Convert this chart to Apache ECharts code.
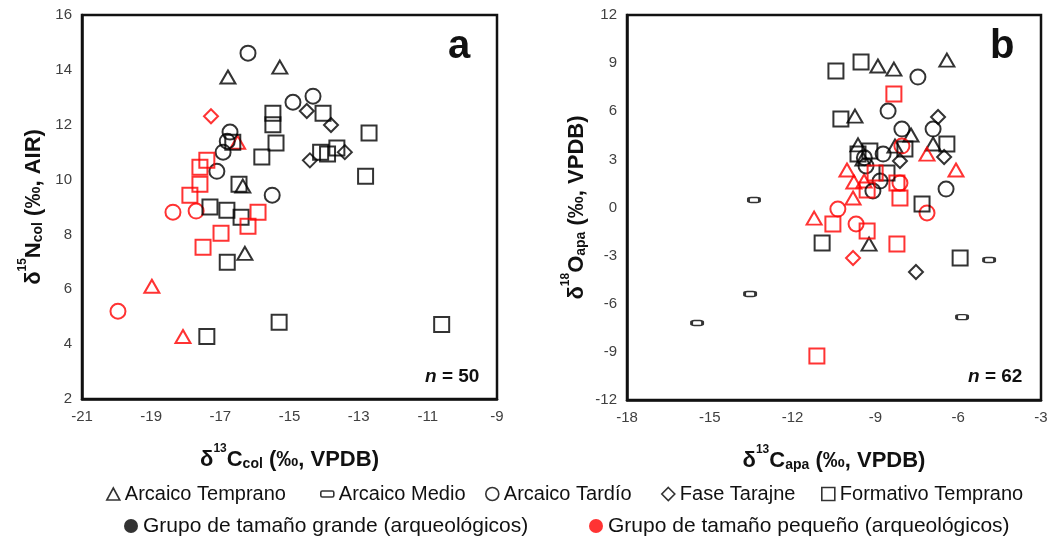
<!DOCTYPE html>
<html>
<head>
<meta charset="utf-8">
<script src="https://cdn.jsdelivr.net/npm/echarts@6/dist/echarts.min.js"></script>
<style>
  html, body { margin: 0; padding: 0; background: #fff; }
  #main { width: 1053px; height: 540px; }
</style>
</head>
<body>
<div id="main"></div>
<script>
// [d13C, d15N / d18O, grupo]  grupo 0 = grande (negro), 1 = pequeño (rojo)
// panel a : colágeno
var tempranoA = [[-16.78,13.74,0],[-15.28,14.1,0],[-16.29,7.31,0],[-16.35,9.76,0],
    [-16.5,11.36,1],[-18.98,6.11,1],[-18.08,4.28,1]];
var tardioA = [[-16.2,14.61,0],[-14.9,12.82,0],[-14.32,13.04,0],[-16.72,11.73,0],[-16.8,11.4,0],
    [-16.92,11.0,0],[-17.1,10.3,0],[-15.5,9.43,0],
    [-18.37,8.81,1],[-17.7,8.85,1],[-19.96,5.2,1]];
var tarajneA = [[-14.5,12.5,0],[-13.8,11.99,0],[-14.41,10.7,0],[-13.4,11.0,0],[-17.27,12.31,1]];
var formativoA = [[-15.48,12.42,0],[-15.48,12.0,0],[-15.39,11.33,0],[-15.8,10.82,0],[-16.64,11.36,0],
    [-16.46,9.83,0],[-17.3,9.0,0],[-16.81,8.88,0],[-16.4,8.63,0],[-16.8,6.99,0],[-17.39,4.28,0],
    [-15.3,4.8,0],[-10.6,4.72,0],[-14.03,12.42,0],[-14.1,11.0,0],[-13.9,10.93,0],[-13.63,11.15,0],
    [-12.7,11.7,0],[-12.8,10.12,0],
    [-17.39,10.7,1],[-17.59,10.45,1],[-17.59,9.83,1],[-17.88,9.43,1],[-15.91,8.81,1],
    [-16.2,8.3,1],[-16.98,8.04,1],[-17.5,7.53,1]];

// panel b : apatita
var medioB = [[-13.4,0.47,0],[-13.54,-5.39,0],[-15.46,-7.2,0],[-4.88,-3.27,0],[-5.86,-6.83,0]];
var tempranoB = [[-8.91,8.82,0],[-8.33,8.63,0],[-6.41,9.19,0],[-9.74,5.7,0],[-7.71,4.52,0],
    [-9.63,3.9,0],[-6.91,3.96,0],[-9.23,-2.28,0],[-9.45,3.02,0],[-8.29,3.83,0],
    [-7.13,3.33,1],[-6.08,2.34,1],[-10.03,2.34,1],[-9.78,1.59,1],[-9.41,1.65,1],[-9.81,0.59,1],[-11.22,-0.66,1]];
var tardioB = [[-7.46,8.13,0],[-8.54,6.01,0],[-8.04,4.89,0],[-6.91,4.89,0],[-8.72,3.33,0],
    [-9.4,3.1,0],[-9.34,2.59,0],[-8.83,1.65,0],[-9.09,1.03,0],[-6.44,1.15,0],
    [-8.04,3.83,1],[-8.11,1.53,1],[-10.36,-0.1,1],[-7.13,-0.34,1],[-9.7,-1.03,1]];
var tarajneB = [[-6.73,5.64,0],[-6.51,3.15,0],[-8.11,2.9,0],[-7.53,-4.02,0],[-9.81,-3.15,1]];
var formativoB = [[-10.43,8.51,0],[-9.52,9.07,0],[-10.25,5.52,0],[-9.63,3.33,0],[-9.2,3.52,0],
    [-7.93,3.65,0],[-6.41,3.96,0],[-8.58,2.15,0],[-7.31,0.22,0],[-10.93,-2.21,0],[-5.93,-3.15,0],
    [-8.33,7.07,1],[-9.01,2.15,1],[-8.22,1.53,1],[-9.3,1.09,1],[-8.11,0.59,1],[-10.54,-1.03,1],
    [-9.3,-1.47,1],[-8.22,-2.28,1],[-11.12,-9.26,1]];

var periodos = ['Arcaico Temprano', 'Arcaico Medio', 'Arcaico Tardío', 'Fase Tarajne', 'Formativo Temprano'];
var grupos = ['Grupo de tamaño grande (arqueológicos)', 'Grupo de tamaño pequeño (arqueológicos)'];
var nA = 'n = 50', nB = 'n = 62';

var colores = ['#000', '#f00'];

function serie(name, sym, size, pts, idx) {
    return {
        name: name,
        type: 'scatter',
        xAxisIndex: idx,
        yAxisIndex: idx,
        symbol: sym,
        symbolSize: size,
        itemStyle: { color: 'rgba(0,0,0,0)', borderColor: '#000', borderWidth: 2 },
        emphasis: { disabled: true },
        data: pts.map(function (p) {
            return { value: [p[0], p[1]], itemStyle: { borderColor: colores[p[2]] } };
        })
    };
}

var tick = { color: '#404040', fontSize: 15, fontFamily: 'Liberation Sans' };
var tit = {
    d: { fontSize: 22, fontWeight: 'bold', color: '#111', fontFamily: 'Liberation Sans', lineHeight: 28, verticalAlign: 'bottom' },
    sup: { fontSize: 12, fontWeight: 'bold', color: '#111', fontFamily: 'Liberation Sans', verticalAlign: 'top', lineHeight: 28 },
    sub: { fontSize: 14, fontWeight: 'bold', color: '#111', fontFamily: 'Liberation Sans', verticalAlign: 'bottom', lineHeight: 22 }
};

function eje(min, max, interval, name, gap) {
    return {
        type: 'value', min: min, max: max, interval: interval,
        name: name, nameLocation: 'middle', nameGap: gap,
        nameTextStyle: { rich: tit },
        axisLine: { show: true, onZero: false, lineStyle: { color: '#111', width: 2.5 } },
        axisTick: { show: false },
        splitLine: { show: false },
        axisLabel: Object.assign({ margin: 10 }, tick)
    };
}

// nombre, icono, left, top, ancho, alto, tamaño de letra
var legendItems = [
    [periodos[0], 'triangle', 106, 482, 13, 12, 20],
    [periodos[1], 'roundRect', 320, 482, 13, 6, 20],
    [periodos[2], 'circle', 485, 482, 13, 13, 20],
    [periodos[3], 'diamond', 661, 482, 13, 13, 20],
    [periodos[4], 'rect', 821, 482, 13, 13, 20],
    [grupos[0], 'circle', 124, 514, 14, 14, 21],
    [grupos[1], 'circle', 589, 514, 14, 14, 21]
];
var legends = legendItems.map(function (l, i) {
    return {
        data: [{ name: l[0], icon: l[1] }],
        left: l[2], top: l[3], itemWidth: l[4], itemHeight: l[5], padding: 0,
        selectedMode: false,
        itemStyle: i < 5 ? { color: 'rgba(0,0,0,0)', borderColor: '#000', borderWidth: 1.6 }
                         : { color: colores[i - 5], borderWidth: 0 },
        textStyle: { fontSize: l[6], color: '#111', fontFamily: 'Liberation Sans', lineHeight: 24 }
    };
});

var chart = echarts.init(document.getElementById('main'), null, { renderer: 'canvas' });
var option = {
    animation: false,
    backgroundColor: '#fff',
    legend: legends,
    grid: [
        { left: 82, top: 15, width: 415, height: 384, show: true, borderColor: '#111', borderWidth: 2.5 },
        { left: 627, top: 15, width: 414, height: 385, show: true, borderColor: '#111', borderWidth: 2.5 }
    ],
    xAxis: [
        Object.assign({ gridIndex: 0 }, eje(-21, -9, 2, '{d|δ}{sup|13}{d|C}{sub|col}{d| (‰, VPDB)}', 44)),
        Object.assign({ gridIndex: 1 }, eje(-18, -3, 3, '{d|δ}{sup|13}{d|C}{sub|apa}{d| (‰, VPDB)}', 44))
    ],
    yAxis: [
        Object.assign({ gridIndex: 0 }, eje(2, 16, 2, '{d|δ}{sup|15}{d|N}{sub|col}{d| (‰, AIR)}', 37)),
        Object.assign({ gridIndex: 1 }, eje(-12, 12, 3, '{d|δ}{sup|18}{d|O}{sub|apa}{d| (‰, VPDB)}', 39))
    ],
    graphic: [
        { type: 'text', left: 448, top: 27, style: { text: 'a', font: 'bold 40px Liberation Sans', fill: '#111' } },
        { type: 'text', left: 990, top: 27, style: { text: 'b', font: 'bold 40px Liberation Sans', fill: '#111' } },
        { type: 'text', left: 425, top: 367, style: { text: '{i|n}{b|' + nA.slice(1) + '}',
            rich: { i: { font: 'italic bold 19px Liberation Sans', fill: '#111' }, b: { font: 'bold 19px Liberation Sans', fill: '#111' } } } },
        { type: 'text', left: 968, top: 367, style: { text: '{i|n}{b|' + nB.slice(1) + '}',
            rich: { i: { font: 'italic bold 19px Liberation Sans', fill: '#111' }, b: { font: 'bold 19px Liberation Sans', fill: '#111' } } } }
    ],
    series: [
        serie(periodos[0], 'triangle', [15, 13], tempranoA, 0),
        serie(periodos[2], 'circle', 15, tardioA, 0),
        serie(periodos[3], 'diamond', 14, tarajneA, 0),
        serie(periodos[4], 'rect', 15, formativoA, 0),
        serie(periodos[1], 'roundRect', [11, 5], medioB, 1),
        serie(periodos[0], 'triangle', [15, 13], tempranoB, 1),
        serie(periodos[2], 'circle', 15, tardioB, 1),
        serie(periodos[3], 'diamond', 14, tarajneB, 1),
        serie(periodos[4], 'rect', 15, formativoB, 1),
        { name: grupos[0], type: 'scatter', data: [], itemStyle: { color: colores[0] } },
        { name: grupos[1], type: 'scatter', data: [], itemStyle: { color: colores[1] } }
    ]
};
chart.setOption(option);
</script>
</body>
</html>
